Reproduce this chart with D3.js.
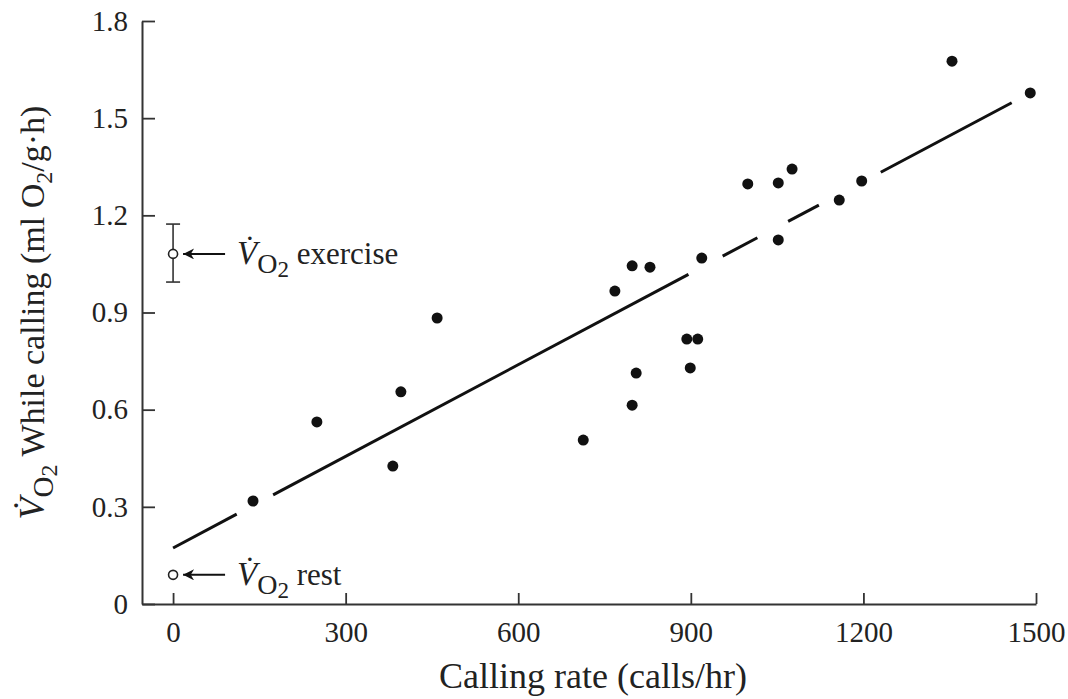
<!DOCTYPE html>
<html>
<head>
<meta charset="utf-8">
<script src="https://cdn.jsdelivr.net/npm/d3@7"></script>
<style>
  body { margin: 0; background: #fff; }
  text { font-family: "Liberation Serif", "DejaVu Serif", serif; fill: #222; }
</style>
</head>
<body>
<svg id="chart"></svg>
<script>
// calling rate (calls/hr) and VO2 while calling (ml O2/g·h)
const callRate   = [139, 250, 382, 396, 459, 713, 768, 798, 829, 798, 805, 893, 912, 899, 919, 999, 1052, 1076, 1052, 1158, 1197, 1354, 1490];
const vo2Calling = [0.318, 0.562, 0.426, 0.655, 0.883, 0.506, 0.966, 1.044, 1.040, 0.614, 0.713, 0.818, 0.818, 0.729, 1.068, 1.297, 1.300, 1.343, 1.124, 1.247, 1.306, 1.676, 1.578];

const xTicks = [0, 300, 600, 900, 1200, 1500];
const yTicks = [0, 0.3, 0.6, 0.9, 1.2, 1.5, 1.8];

// regression line
const fitIntercept = 0.173;
const fitSlope = 0.000943;
const fitRange = [0, 1490];

// reference values plotted at x = 0
const exerciseMean = 1.081, exerciseLow = 0.994, exerciseHigh = 1.173;
const restMean = 0.090;

const width = 1068, height = 699;

const x = d3.scaleLinear().domain([-54, 1500]).range([142, 1036]);
const y = d3.scaleLinear().domain([0, 1.8]).range([604, 21]);

const svg = d3.select('#chart')
    .attr('width', width)
    .attr('height', height);

// axes
const xAxis = d3.axisBottom(x).tickValues(xTicks).tickFormat(d3.format('d'))
    .tickSizeInner(-11).tickSizeOuter(0).tickPadding(17);
const yAxis = d3.axisLeft(y).tickValues(yTicks).tickFormat(d => d === 0 ? '0' : d3.format('.1f')(d))
    .tickSizeInner(-13).tickSizeOuter(0).tickPadding(14);

const gx = svg.append('g')
    .attr('transform', `translate(0,${y(0)})`)
    .call(xAxis);
const gy = svg.append('g')
    .attr('transform', `translate(${x(-54)},0)`)
    .call(yAxis);

[gx, gy].forEach(g => {
    g.select('.domain').attr('stroke', '#333').attr('stroke-width', 2);
    g.selectAll('.tick line').attr('stroke', '#333').attr('stroke-width', 1.8);
    g.selectAll('.tick text').attr('font-size', 29).attr('fill', '#222')
        .style('font-family', '"Liberation Serif", serif');
});

// regression line, broken where it passes close to a point
const p0 = [x(fitRange[0]), y(fitIntercept + fitSlope * fitRange[0])];
const p1 = [x(fitRange[1]), y(fitIntercept + fitSlope * fitRange[1])];
const L = Math.hypot(p1[0] - p0[0], p1[1] - p0[1]);
const ux = (p1[0] - p0[0]) / L, uy = (p1[1] - p0[1]) / L;
const cuts = [];
callRate.forEach((cr, i) => {
    const px = x(cr) - p0[0], py = y(vo2Calling[i]) - p0[1];
    const t = px * ux + py * uy;
    const dist = Math.abs(px * uy - py * ux);
    if (dist < 14) {
        const half = Math.sqrt(21 * 21 - dist * dist);
        cuts.push([t - half, t + half]);
    }
});
cuts.sort((a, b) => a[0] - b[0]);
const segments = [];
let start = 0;
cuts.forEach(([a, b]) => {
    if (a > start) segments.push([start, Math.min(a, L)]);
    start = Math.max(start, b);
});
if (start < L) segments.push([start, L]);

const toX = t => fitRange[0] + (t / L) * (fitRange[1] - fitRange[0]);
const line = d3.line()
    .x(d => x(d))
    .y(d => y(fitIntercept + fitSlope * d));

svg.append('g').selectAll('path')
    .data(segments)
    .join('path')
    .attr('d', s => line([toX(s[0]), toX(s[1])]))
    .attr('fill', 'none')
    .attr('stroke', '#111')
    .attr('stroke-width', 3);

// data points
svg.append('g').selectAll('circle')
    .data(callRate.map((c, i) => [c, vo2Calling[i]]))
    .join('circle')
    .attr('cx', d => x(d[0]))
    .attr('cy', d => y(d[1]))
    .attr('r', 5.5)
    .attr('fill', '#111');

// exercise error bar
const eb = svg.append('g').attr('stroke', '#333').attr('stroke-width', 1.6);
eb.append('line').attr('x1', x(0)).attr('x2', x(0)).attr('y1', y(exerciseLow)).attr('y2', y(exerciseHigh));
[exerciseLow, exerciseHigh].forEach(v => {
    eb.append('line').attr('x1', x(0) - 7).attr('x2', x(0) + 7).attr('y1', y(v)).attr('y2', y(v));
});

// reference open circles
svg.append('g').selectAll('circle')
    .data([exerciseMean, restMean])
    .join('circle')
    .attr('cx', x(0))
    .attr('cy', d => y(d))
    .attr('r', 4.5)
    .attr('fill', '#fff')
    .attr('stroke', '#222')
    .attr('stroke-width', 1.6);

// arrows and labels
svg.append('defs').append('marker')
    .attr('id', 'arrow')
    .attr('viewBox', '0 0 10 10')
    .attr('refX', 0).attr('refY', 5)
    .attr('markerWidth', 16).attr('markerHeight', 11)
    .attr('markerUnits', 'userSpaceOnUse')
    .attr('orient', 'auto')
    .append('path').attr('d', 'M0,5L10,0L7,5L10,10Z').attr('fill', '#111');

function vo2Label(g, tx, ty, rest) {
    const t = g.append('text').attr('x', tx).attr('y', ty).attr('font-size', 31);
    t.append('tspan').attr('font-style', 'italic').attr('font-size', 33).text('V\u0307');
    t.append('tspan').attr('dy', 9).attr('font-size', 28).text('O');
    t.append('tspan').attr('dy', 4).attr('font-size', 23).text('2');
    t.append('tspan').attr('dy', -13).text(' ' + rest);
}

[[exerciseMean, 'exercise'], [restMean, 'rest']].forEach(([v, lbl]) => {
    const g = svg.append('g');
    g.append('line')
        .attr('x1', x(0) + 10).attr('x2', x(0) + 52)
        .attr('y1', y(v)).attr('y2', y(v))
        .attr('stroke', '#111').attr('stroke-width', 2)
        .attr('marker-start', 'url(#arrow)');
    vo2Label(g, x(0) + 64, y(v) + 10, lbl);
});

// axis titles
svg.append('text')
    .attr('x', (x(-54) + x(1500)) / 2 + 4)
    .attr('y', 688)
    .attr('text-anchor', 'middle')
    .attr('font-size', 36)
    .text('Calling rate (calls/hr)');

const yt = svg.append('text')
    .attr('transform', `translate(44,${(y(0) + y(1.8)) / 2}) rotate(-90)`)
    .attr('text-anchor', 'middle')
    .attr('font-size', 34);
yt.append('tspan').attr('font-style', 'italic').attr('font-size', 36).text('V\u0307');
yt.append('tspan').attr('dy', 9).attr('font-size', 29).text('O');
yt.append('tspan').attr('dy', 4).attr('font-size', 24).text('2');
yt.append('tspan').attr('dy', -13).text(' While calling (ml O');
yt.append('tspan').attr('dy', 8).attr('font-size', 24).text('2');
yt.append('tspan').attr('dy', -8).text('/g\u00b7h)');
</script>
</body>
</html>
